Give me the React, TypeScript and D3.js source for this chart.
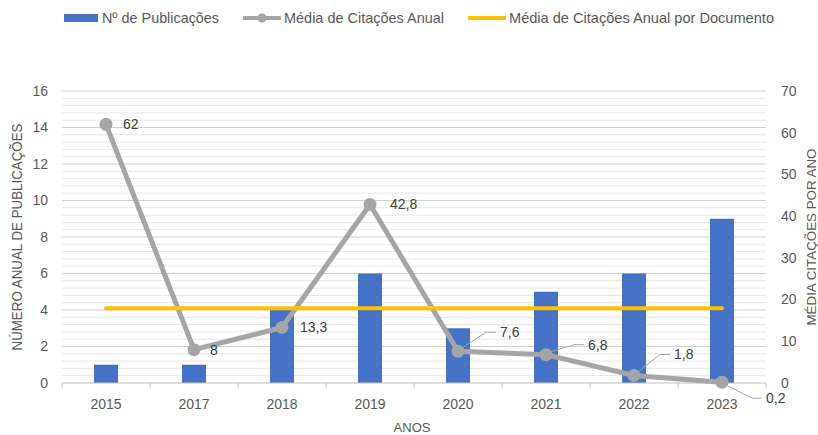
import React from 'react';
import {scaleBand,scaleLinear,line,range} from 'd3';

// chart data
const years=['2015','2017','2018','2019','2020','2021','2022','2023'];
const publicacoes=[1,1,4,6,3,5,6,9];
const mediaCitacoes=[62,8,13.3,42.8,7.6,6.8,1.8,0.2];
const mediaPorDocumento=[17.9,17.9,17.9,17.9,17.9,17.9,17.9,17.9];
const leftTicks=[0,2,4,6,8,10,12,14,16];
const rightTicks=[0,10,20,30,40,50,60,70];
// label offsets (dx,dy) and whether a leader line is drawn
const labelPos=[[17,0,false],[16,0,false],[18,0,false],[20,0,false],[42,-19,true],[42,-10,true],[40,-21,true],[44,16,true]];

const W=818,H=435;
const left=62,right=766,top=91,bottom=383;
const FONT="'Liberation Sans',Arial,sans-serif";
const txt='#595959';

const fmt=(v:number)=>String(v).replace('.',',');

export default function App(){
  const x=scaleBand().domain(years).range([left,right]);
  const yL=scaleLinear().domain([0,16]).range([bottom,top]);
  const yR=scaleLinear().domain([0,70]).range([bottom,top]);
  const cx=(y:string)=>(x(y) as number)+x.bandwidth()/2;
  const minor=range(0,16.01,0.4).filter(v=>Math.abs(v/2-Math.round(v/2))>0.01);

  const grayLine=line<number>().x((d,i)=>cx(years[i])).y(d=>yR(d));
  const yellowLine=line<number>().x((d,i)=>cx(years[i])).y(d=>yR(d));

  return (
    <svg width={W} height={H} style={{position:'absolute',left:0,top:0,background:'#fff'}} fontFamily={FONT}>
      {/* gridlines */}
      {minor.map(v=><line key={'m'+v} x1={left} x2={right} y1={yL(v)} y2={yL(v)} stroke="#e6e6e6" strokeWidth={1}/>)}
      {leftTicks.filter(v=>v>0).map(v=><line key={'g'+v} x1={left} x2={right} y1={yL(v)} y2={yL(v)} stroke="#d0d0d0" strokeWidth={1}/>)}

      {/* bars */}
      {publicacoes.map((v,i)=>
        <rect key={'b'+i} x={cx(years[i])-12} y={yL(v)} width={24} height={bottom-yL(v)} fill="#4472C4"/>
      )}

      {/* x axis */}
      <line x1={left} x2={right} y1={bottom} y2={bottom} stroke="#bfbfbf"/>
      {years.map((y,i)=><line key={'t'+i} x1={x(y)} x2={x(y)} y1={bottom} y2={bottom+5} stroke="#bfbfbf"/>)}
      <line x1={right} x2={right} y1={bottom} y2={bottom+5} stroke="#bfbfbf"/>

      {/* gray line */}
      <path d={grayLine(mediaCitacoes) as string} fill="none" stroke="#a5a5a5" strokeWidth={5} strokeLinejoin="round"/>
      {mediaCitacoes.map((v,i)=><circle key={'c'+i} cx={cx(years[i])} cy={yR(v)} r={6.5} fill="#a5a5a5"/>)}

      {/* yellow line */}
      <path d={yellowLine(mediaPorDocumento) as string} fill="none" stroke="#FFC000" strokeWidth={4} strokeLinecap="round"/>

      {/* data labels */}
      {mediaCitacoes.map((v,i)=>{
        const px=cx(years[i]),py=yR(v);
        const [dx,dy,lead]=labelPos[i] as [number,number,boolean];
        const tx=px+dx,ty=py+dy;
        return <g key={'l'+i}>
          {lead&&<polyline points={`${px+2},${py-(dy<0?2:-2)} ${tx-14},${ty} ${tx-4},${ty}`} fill="none" stroke="#a5a5a5" strokeWidth={1}/>}
          <text x={tx} y={ty} dy="0.35em" fontSize={14} fill="#404040">{fmt(v)}</text>
        </g>;
      })}

      {/* left axis labels */}
      {leftTicks.map(v=><text key={'yl'+v} x={48} y={yL(v)} dy="0.35em" textAnchor="end" fontSize={14} fill={txt}>{v}</text>)}
      {/* right axis labels */}
      {rightTicks.map(v=><text key={'yr'+v} x={781} y={yR(v)} dy="0.35em" fontSize={14} fill={txt}>{v}</text>)}
      {/* x labels */}
      {years.map(y=><text key={'xl'+y} x={cx(y)} y={409} textAnchor="middle" fontSize={14} fill={txt}>{y}</text>)}

      {/* axis titles */}
      <text x={W/2+3} y={432} textAnchor="middle" fontSize={13} fill={txt}>ANOS</text>
      <text transform={`translate(22,237) rotate(-90)`} textAnchor="middle" fontSize={14} textLength={227} lengthAdjust="spacingAndGlyphs" fill={txt}>NÚMERO ANUAL DE PUBLICAÇÕES</text>
      <text transform={`translate(816,237) rotate(-90)`} textAnchor="middle" fontSize={13.5} textLength={177} lengthAdjust="spacingAndGlyphs" fill={txt}>MÉDIA CITAÇÕES POR ANO</text>

      {/* legend */}
      <rect x={64} y={14} width={34} height={8} fill="#4472C4"/>
      <text x={102} y={18} dy="0.35em" fontSize={14.5} textLength={117} lengthAdjust="spacingAndGlyphs" fill={txt}>Nº de Publicações</text>
      <line x1={243} x2={281} y1={18} y2={18} stroke="#a5a5a5" strokeWidth={4}/>
      <circle cx={262} cy={18} r={4.5} fill="#a5a5a5"/>
      <text x={284} y={18} dy="0.35em" fontSize={14.5} textLength={160} lengthAdjust="spacingAndGlyphs" fill={txt}>Média de Citações Anual</text>
      <line x1={468} x2={506} y1={18} y2={18} stroke="#FFC000" strokeWidth={4}/>
      <text x={509} y={18} dy="0.35em" fontSize={14.5} textLength={265} lengthAdjust="spacingAndGlyphs" fill={txt}>Média de Citações Anual por Documento</text>
    </svg>
  );
}
